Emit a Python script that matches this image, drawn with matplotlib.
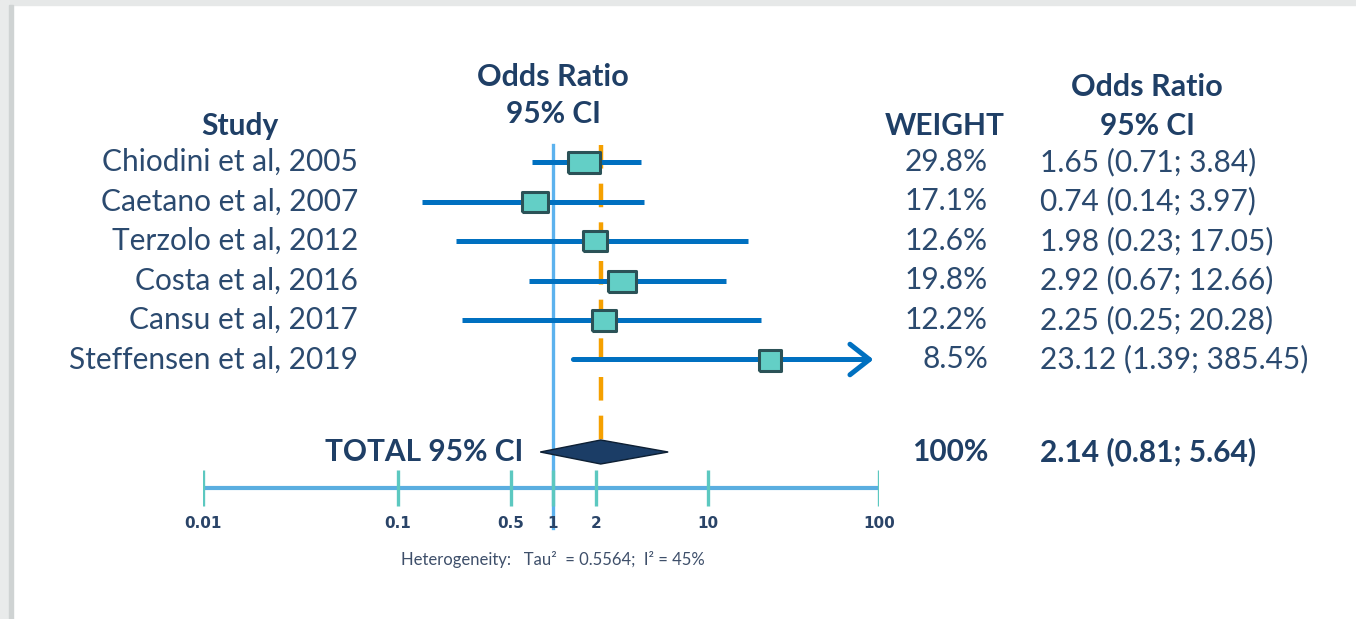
import numpy as np
import matplotlib.pyplot as plt
from matplotlib.patches import Rectangle

# study-level results
studies = ["Chiodini et al, 2005", "Caetano et al, 2007", "Terzolo et al, 2012",
           "Costa et al, 2016", "Cansu et al, 2017", "Steffensen et al, 2019"]
odds = [1.65, 0.74, 1.98, 2.92, 2.25, 23.12]
lower = [0.71, 0.14, 0.23, 0.67, 0.25, 1.39]
upper = [3.84, 3.97, 17.05, 12.66, 20.28, 385.45]
weights = [29.8, 17.1, 12.6, 19.8, 12.2, 8.5]

# pooled estimate
total_or = 2.14
total_lo = 0.81
total_hi = 5.64
tau2 = 0.5564
i2 = 45

tick_vals = [0.01, 0.1, 0.5, 1, 2, 10, 100]
tick_labels = ["0.01", "0.1", "0.5", "1", "2", "10", "100"]

W, H = 1356, 619
fig = plt.figure(figsize=(W / 100, H / 100), dpi=100)
fig.patch.set_facecolor("white")

# card frame: grey strip on top and shadow on the left
fig.patches.append(Rectangle((0, 1 - 5 / H), 1, 5 / H, transform=fig.transFigure,
                             color="#e6e8e8", zorder=0))
fig.patches.append(Rectangle((0, 0), 9 / W, 1, transform=fig.transFigure,
                             color="#e9ebeb", zorder=0))
fig.patches.append(Rectangle((9 / W, 0), 4 / W, 1 - 5 / H, transform=fig.transFigure,
                             color="#cfd3d3", zorder=0))

# the axis is piecewise logarithmic between the labelled ticks
tick_px = np.array([203, 398, 511, 553, 596, 708, 879], dtype=float)
log_ticks = np.log10(tick_vals)


def fwd(x):
    lx = np.log10(np.clip(np.asarray(x, dtype=float), 1e-9, None))
    return np.interp(lx, log_ticks, tick_px)


def inv(p):
    return 10 ** np.interp(np.asarray(p, dtype=float), tick_px, log_ticks)


ax = fig.add_axes([tick_px[0] / W, 0, (tick_px[-1] - tick_px[0]) / W, 1])
ax.set_xscale("function", functions=(fwd, inv))
ax.set_xlim(tick_vals[0], tick_vals[-1])
ax.set_ylim(H, 0)
ax.axis("off")

navy = "#1f3f66"
text_c = "#2b4a6f"
ci_blue = "#0070c0"
box_fill = "#63cfc6"
box_edge = "#2b5257"

rows_y = 162 + 39.5 * np.arange(len(studies))
total_y = 452
axis_y = 488

# reference line at OR = 1 and dashed line at pooled estimate
ax.plot([1, 1], [145, 528], color="#5cb2ee", lw=2.4, zorder=1)
ax.plot([total_or, total_or], [145, total_y - 12], color="#f5a000", lw=3.2,
        dashes=(5.3, 3.4), zorder=1)

for y, o, lo, hi, w in zip(rows_y, odds, lower, upper, weights):
    if hi > tick_vals[-1]:
        ax.annotate("", xy=(tick_vals[-1], y), xytext=(lo, y),
                    arrowprops=dict(arrowstyle="->,head_length=1.4,head_width=1.1",
                                    color=ci_blue, lw=3.6, shrinkA=0, shrinkB=4),
                    zorder=2)
    else:
        ax.plot([lo, hi], [y, y], color=ci_blue, lw=3.6, solid_capstyle="butt", zorder=2)
    bw = 18 + 0.5 * w
    bh = 21.0
    verts = [(-bw / 2, -bh / 2), (bw / 2, -bh / 2), (bw / 2, bh / 2), (-bw / 2, bh / 2),
             (-bw / 2, -bh / 2)]
    ax.plot(o, y, marker=verts, markersize=bw * 0.72, markerfacecolor=box_fill,
            markeredgecolor=box_edge, markeredgewidth=2.2, zorder=3)

# pooled diamond
ax.fill([total_lo, total_or, total_hi, total_or],
        [total_y, total_y - 12, total_y, total_y + 12],
        facecolor="#1b3d66", edgecolor="#0d1f33", lw=1, zorder=3)

# scale bar with ticks
ax.plot([tick_vals[0], tick_vals[-1]], [axis_y, axis_y], color="#5aaee0", lw=3, zorder=1)
ax.vlines(tick_vals, axis_y - 18, axis_y + 18, color="#5cc8c0", lw=2.4, zorder=2)
for v, lab in zip(tick_vals, tick_labels):
    ax.text(v, 523, lab, ha="center", va="center", fontsize=11, fontweight="bold",
            family="DejaVu Sans", color="#2a4468")


def ftext(x, y, s, **kw):
    kw.setdefault("family", "Lato")
    fig.text(x / W, 1 - y / H, s, **kw)


fs = 21.5
# headers
ftext(240, 126, "Study", ha="center", va="center", fontsize=fs, fontweight="bold", color=navy)
ftext(553, 77, "Odds Ratio", ha="center", va="center", fontsize=22, fontweight="bold", color=navy)
ftext(553, 114, "95% CI", ha="center", va="center", fontsize=fs, fontweight="bold", color=navy)
ftext(945, 126, "WEIGHT", ha="center", va="center", fontsize=fs, fontweight="bold", color=navy)
ftext(1147, 87, "Odds Ratio", ha="center", va="center", fontsize=22, fontweight="bold", color=navy)
ftext(1147, 126, "95% CI", ha="center", va="center", fontsize=fs, fontweight="bold", color=navy)

# study rows
for y, name, o, lo, hi, w in zip(rows_y, studies, odds, lower, upper, weights):
    ftext(358, y, name, ha="right", va="center", fontsize=fs, color=text_c)
    ftext(988, y, f"{w:.1f}%", ha="right", va="center", fontsize=fs, color=text_c)
    ftext(1040, y, f"{o:.2f} ({lo:.2f}; {hi:.2f})", ha="left", va="center",
          fontsize=fs, color=text_c)

# total row
ftext(523, total_y, "TOTAL 95% CI", ha="right", va="center", fontsize=fs,
      fontweight="bold", color=navy)
ftext(988, total_y, "100%", ha="right", va="center", fontsize=fs, fontweight="bold", color=navy)
ftext(1040, total_y, f"{total_or:.2f} ({total_lo:.2f}; {total_hi:.2f})", ha="left",
      va="center", fontsize=fs, fontweight="bold", color=navy)

ftext(553, 560, f"Heterogeneity:   Tau\u00b2  = {tau2};  I\u00b2 = {i2}%", ha="center",
      va="center", fontsize=12, color="#3e4f6a")

fig.savefig("out.png", dpi=100)
